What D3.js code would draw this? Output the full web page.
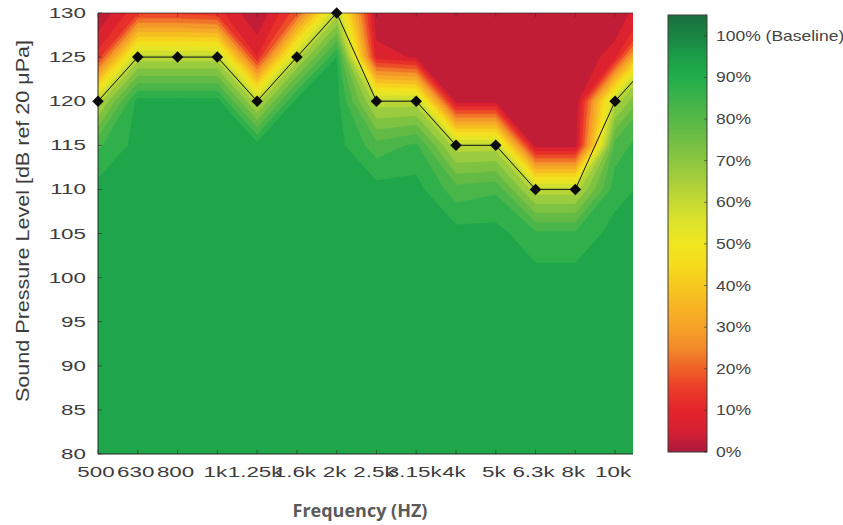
<!DOCTYPE html>
<html><head><meta charset="utf-8">
<script src="https://cdn.jsdelivr.net/npm/d3@7/dist/d3.min.js"></script>
<style>body{margin:0;background:#fff}svg{display:block}</style>
</head><body><svg id="chart" width="843" height="525"></svg>
<script>
// ---------- data ----------
const freqLabels = ["500","630","800","1k","1.25k","1.6k","2k","2.5k","3.15k","4k","5k","6.3k","8k","10k","12.5k"];
const thresholdSPL = [120,125,125,125,120,125,130,120,120,115,115,110,110,120,125];
const splLevels = [80,85,90,95,100,105,110,115,120,125,130];
// rows follow splLevels (80 -> 130), columns follow freqLabels; % of baseline
const responsePct = [
  [92,92,92,92,92,92,92,92,92,92,92,92,92,92,92],
  [92,92,92,92,92,92,92,92,92,92,92,92,92,92,92],
  [92,92,92,92,92,92,92,92,92,92,92,92,92,92,92],
  [92,92,92,92,92,92,92,92,92,92,92,92,92,92,92],
  [92,92,92,92,92,92,92,92,92,92,92,92,92,92,92],
  [92,92,92,92,92,92,92,92,92,92,92,86,86,92,92],
  [92,92,92,92,92,92,92,92,92,82,84,62,62,88,92],
  [84,92,92,92,92,92,92,82,86,62,62, 2, 2,82,90],
  [62,92,92,92,62,92,92,62,62, 3, 3, 0, 0,62,84],
  [12,62,62,62,10,62,90, 8, 4, 0, 0, 0, 0, 8,62],
  [ 0,14,14,12, 0,18,62, 0, 0, 0, 0, 0, 0, 0,14]
];
const yTicks = [80,85,90,95,100,105,110,115,120,125,130];
const cbarTicks = [0,10,20,30,40,50,60,70,80,90,100];
const cbarLabels = ["0%","10%","20%","30%","40%","50%","60%","70%","80%","90%","100% (Baseline)"];
const contourLevels = [0,5,10,15,20,25,30,35,40,45,50,55,60,65,70,75,80,85,90,95,100];
const cmapPct = [0,5,10,15,20,25,30,35,40,45,50,55,60,65,70,75,80,85,90,95,100,105];
const cmapHex = ["#ad1a3c","#d51f32","#e3252b","#ea3a28","#ef6027","#f38a2b","#f5a227","#f7b424","#f7c81f","#f5dc1d","#efe61f","#dde32a","#c6da33","#a9cf3b","#8cc640","#70be44","#56b847","#3db24a","#21ae4b","#1c9e48","#198444","#1a6f3c"];

// ---------- layout ----------
const svg = d3.select("#chart");
const plot = {left: 98, right: 633, top: 13, bottom: 454};
const x = d3.scaleLinear().domain([0, 13.45]).range([plot.left, plot.right]);
const y = d3.scaleLinear().domain([80, 130]).range([plot.bottom, plot.top]);
const color = d3.scaleLinear().domain(cmapPct).range(cmapHex).clamp(true);
const tickFont = "'Liberation Sans', Arial, Helvetica, sans-serif";

svg.append("defs").append("clipPath").attr("id","plotClip")
  .append("rect").attr("x", plot.left).attr("y", plot.top)
  .attr("width", plot.right - plot.left).attr("height", plot.bottom - plot.top);

// ---------- filled contours ----------
const nx = freqLabels.length, ny = splLevels.length;
const grid = [];
for (let j = 0; j < ny; j++) for (let i = 0; i < nx; i++) grid.push(responsePct[j][i]);
const contours = d3.contours().size([nx, ny]).thresholds(contourLevels)(grid);
const step = splLevels[1] - splLevels[0];
const bandHalf = (contourLevels[1] - contourLevels[0]) / 2;
const proj = d3.geoTransform({
  point(px, py) { this.stream.point(x(px - 0.5), y(splLevels[0] + (py - 0.5) * step)); }
});
const gPath = d3.geoPath(proj);
svg.append("g").attr("clip-path","url(#plotClip)")
  .selectAll("path").data(contours).join("path")
  .attr("d", gPath)
  .attr("fill", d => color(d.value + bandHalf))
  .attr("stroke", d => color(d.value + bandHalf)).attr("stroke-width", 0.3);

// ---------- axes frame and ticks ----------
const frame = svg.append("g").attr("stroke","#2b2b2b").attr("fill","none").attr("stroke-width",1);
frame.append("line").attr("x1",plot.left).attr("x2",plot.left).attr("y1",plot.top).attr("y2",plot.bottom);
frame.append("line").attr("x1",plot.left).attr("x2",plot.right).attr("y1",plot.bottom).attr("y2",plot.bottom);
frame.append("line").attr("x1",plot.left).attr("x2",plot.right).attr("y1",plot.top).attr("y2",plot.top).attr("stroke-opacity",0.7);

const xIdx = d3.range(freqLabels.length).filter(i => i <= x.domain()[1]);
frame.selectAll(".xtb").data(xIdx).join("line").attr("class","xtb")
  .attr("x1", d => x(d)).attr("x2", d => x(d)).attr("y1", plot.bottom).attr("y2", plot.bottom - 4).attr("stroke-opacity",0.6);
frame.selectAll(".xtt").data(xIdx).join("line").attr("class","xtt")
  .attr("x1", d => x(d)).attr("x2", d => x(d)).attr("y1", plot.top).attr("y2", plot.top + 4).attr("stroke-opacity",0.4);
frame.selectAll(".ytl").data(yTicks).join("line").attr("class","ytl")
  .attr("x1", plot.left).attr("x2", plot.left + 4).attr("y1", d => y(d)).attr("y2", d => y(d)).attr("stroke-opacity",0.6);

// tick labels
svg.append("g").selectAll("text").data(yTicks).join("text")
  .attr("transform", d => `translate(86,${y(d) + 5}) scale(1.6,1)`)
  .attr("text-anchor","end").attr("font-family", tickFont).attr("font-size", 14).attr("fill","#3c3c3c")
  .text(d => d);
svg.append("g").selectAll("text").data(xIdx).join("text")
  .attr("transform", d => `translate(${x(d) - 2},477) scale(1.6,1)`)
  .attr("text-anchor","middle").attr("font-family", tickFont).attr("font-size", 14).attr("fill","#3c3c3c")
  .text(d => freqLabels[d]);

// axis titles
svg.append("text").attr("x", 360).attr("y", 517).attr("text-anchor","middle")
  .attr("font-family","'Open Sans','Noto Sans',sans-serif").attr("font-weight","bold")
  .attr("font-size", 18).attr("fill","#5a5a5a").text("Frequency (HZ)");
svg.append("text").attr("transform","translate(29,221) rotate(-90)").attr("text-anchor","middle")
  .attr("font-family", tickFont).attr("font-size", 18).attr("fill","#3c3c3c")
  .attr("textLength", 362).attr("lengthAdjust","spacingAndGlyphs")
  .text("Sound Pressure Level [dB ref 20 \u03BCPa]");

// ---------- threshold line + markers ----------
const pts = freqLabels.map((f, i) => ({i, v: thresholdSPL[i]}));
const line = d3.line().x(d => x(d.i)).y(d => y(d.v));
svg.append("path").datum(pts).attr("clip-path","url(#plotClip)")
  .attr("d", line).attr("fill","none").attr("stroke","#111").attr("stroke-width",1);
svg.append("g").selectAll("path").data(pts.filter(d => d.i <= x.domain()[1])).join("path")
  .attr("transform", d => `translate(${x(d.i)},${y(d.v)}) rotate(45)`)
  .attr("d", d3.symbol(d3.symbolSquare, 66)).attr("fill","#0a0a0a");

// ---------- colorbar ----------
const cb = {x: 668, w: 39};
const cy = d3.scaleLinear().domain([0, 105]).range([452, 15]);
const grad = svg.select("defs").append("linearGradient").attr("id","cbGrad")
  .attr("x1",0).attr("x2",0).attr("y1",1).attr("y2",0);
grad.selectAll("stop").data(cmapPct).join("stop")
  .attr("offset", d => d / 105).attr("stop-color", d => color(d));
svg.append("rect").attr("x", cb.x).attr("y", cy(105)).attr("width", cb.w).attr("height", cy(0) - cy(105))
  .attr("fill","url(#cbGrad)").attr("stroke","#3a3a3a").attr("stroke-width",1);
svg.append("g").selectAll("line").data(cbarTicks).join("line")
  .attr("x1", cb.x + cb.w - 3).attr("x2", cb.x + cb.w).attr("y1", d => cy(d)).attr("y2", d => cy(d))
  .attr("stroke","#333").attr("stroke-opacity",0.6);
svg.append("g").selectAll("text").data(cbarTicks).join("text")
  .attr("transform", d => `translate(716,${cy(d) + 5}) scale(1.25,1)`)
  .attr("font-family", tickFont).attr("font-size", 14).attr("fill","#444")
  .text((d, i) => cbarLabels[i]);
</script></body></html>
